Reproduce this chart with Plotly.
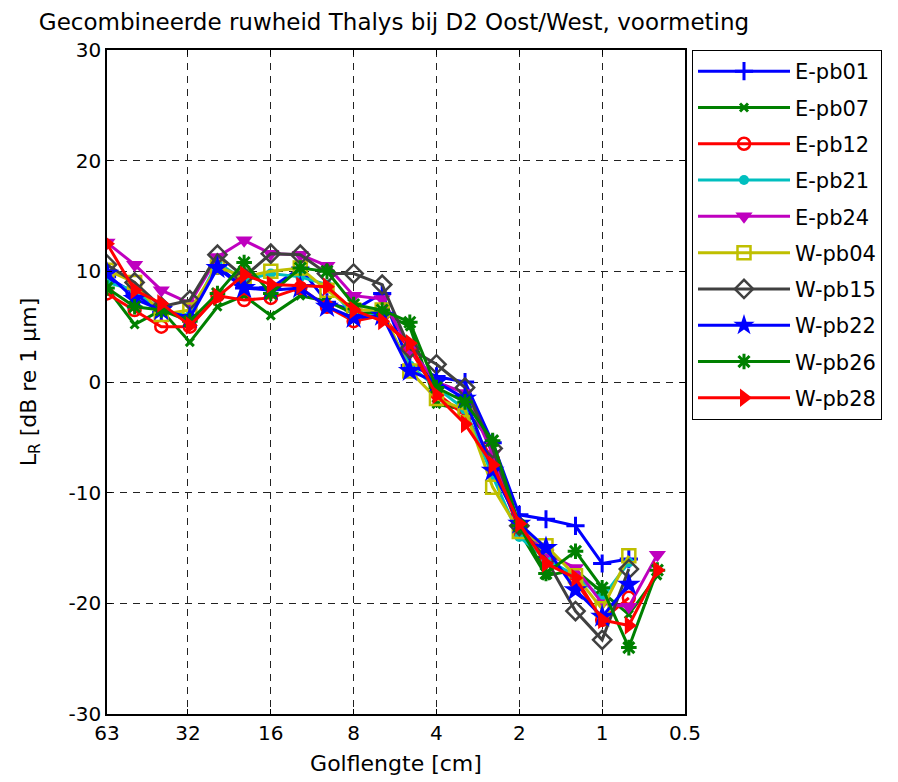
import math
import plotly.graph_objects as go

# Third-octave wavelength bands [cm]
bands = [63, 50, 40, 31.5, 25, 20, 16, 12.5, 10, 8, 6.3, 5, 4, 3.15, 2.5, 2, 1.6, 1.25, 1, 0.8, 0.63]

E_pb01 = [9.5, 8.0, 6.3, 6.0, 10.5, 8.5, 8.5, 10.3, 7.2, 6.5, 8.0, 1.5, 0.5, 0.0, -5.5, -12.0, -12.4, -13.0, -16.4, -16.0, None]
E_pb07 = [8.5, 5.2, 6.5, 3.6, 6.8, 7.8, 6.0, 7.8, 7.3, 6.2, 6.3, 5.0, -2.0, -2.5, -5.5, -13.5, -17.5, -17.0, -19.0, -21.0, -17.5]
E_pb12 = [8.0, 6.5, 5.0, 5.0, 7.8, 7.4, 7.6, 8.5, 6.8, 5.5, 6.0, 3.0, -1.0, -3.0, -7.0, -13.5, -16.0, -18.0, -21.5, -19.5, None]
E_pb21 = [9.0, 8.3, 6.5, 6.0, 10.8, 9.2, 9.8, 9.5, 8.8, 6.0, 6.0, 1.5, -0.5, -2.5, -8.5, -14.0, -16.0, -17.5, -19.5, -16.3, None]
E_pb24 = [12.6, 10.6, 8.3, 7.1, 11.3, 12.8, 11.6, 11.5, 10.5, 7.8, 7.5, 3.0, 0.0, -1.0, -6.5, -13.0, -15.5, -16.8, -20.0, -20.3, -15.6]
W_pb04 = [10.1, 9.0, 6.1, 6.5, 10.4, 9.5, 10.0, 10.3, 8.3, 6.5, 6.5, 1.0, -1.5, -2.5, -9.5, -13.5, -14.8, -17.5, -20.5, -15.7, None]
W_pb15 = [10.6, 9.0, 6.8, 7.4, 11.5, 9.5, 11.6, 11.5, 9.8, 9.8, 8.8, 3.0, 1.6, -0.5, -6.0, -13.0, -16.0, -20.7, -23.3, -16.9, None]
W_pb22 = [9.8, 7.5, 6.5, 5.8, 10.3, 8.5, 8.3, 8.5, 6.8, 5.8, 6.0, 1.0, 0.0, -1.5, -8.0, -12.8, -15.0, -18.8, -21.2, -18.3, None]
W_pb26 = [8.5, 6.8, 6.5, 5.5, 8.0, 10.8, 8.0, 10.3, 10.0, 7.0, 6.5, 5.4, -0.5, -1.8, -5.3, -13.0, -17.3, -15.3, -18.6, -24.0, -17.0]
W_pb28 = [12.5, 8.3, 7.1, 5.1, 7.7, 9.7, 8.8, 8.7, 8.6, 6.5, 5.5, 3.5, -1.2, -3.8, -7.5, -12.8, -16.4, -17.7, -21.5, -22.0, -17.0]

names = ["E-pb01", "E-pb07", "E-pb12", "E-pb21", "E-pb24",
         "W-pb04", "W-pb15", "W-pb22", "W-pb26", "W-pb28"]
series = [E_pb01, E_pb07, E_pb12, E_pb21, E_pb24, W_pb04, W_pb15, W_pb22, W_pb26, W_pb28]

x_tickvals = [63, 32, 16, 8, 4, 2, 1, 0.5]
x_ticktext = ["63", "32", "16", "8", "4", "2", "1", "0.5"]
y_tickvals = [-30, -20, -10, 0, 10, 20, 30]
y_ticktext = ["-30", "-20", "-10", "0", "10", "20", "30"]

styles = [
    dict(color="#0000FF", symbol="cross-thin", size=13, lw=3),
    dict(color="#008000", symbol="x-thin", size=8, lw=3),
    dict(color="#FF0000", symbol="circle-open", size=12, lw=2.5),
    dict(color="#00BFBF", symbol="circle", size=10, lw=0),
    dict(color="#BF00BF", symbol="triangle-down", size=15, lw=0),
    dict(color="#BFBF00", symbol="square-open", size=13, lw=2.5),
    dict(color="#404040", symbol="diamond-open", size=14, lw=2.5),
    dict(color="#0000FF", symbol="star", size=18, lw=0),
    dict(color="#008000", symbol="asterisk-open", size=13, lw=3),
    dict(color="#FF0000", symbol="triangle-right", size=16, lw=0),
]

FONT = "DejaVu Sans"

fig = go.Figure()
for name, vals, st in zip(names, series, styles):
    fig.add_trace(go.Scatter(
        x=bands, y=vals, name=name, mode="lines+markers",
        legendgroup=name,
        line=dict(color=st["color"], width=3),
        marker=dict(symbol=st["symbol"], size=st["size"], color=st["color"],
                    line=dict(color=st["color"], width=st["lw"])),
        connectgaps=False,
    ))

fig.update_layout(
    width=898, height=782,
    margin=dict(l=99, r=221, t=42, b=76),
    paper_bgcolor="white", plot_bgcolor="white",
    font=dict(family=FONT, size=20, color="black"),
    title=dict(text="Gecombineerde ruwheid Thalys bij D2 Oost/West, voormeting",
               x=(394 - 8) / 898, xanchor="center", y=1 - 14 / 782, yanchor="middle",
               font=dict(family=FONT, size=23, color="black")),
    showlegend=True,
    legend=dict(x=(692 - 107) / 578, xanchor="left", y=1, yanchor="top",
                bordercolor="black", borderwidth=1, bgcolor="white",
                font=dict(family=FONT, size=21, color="black"),
                itemwidth=92, tracegroupgap=6, traceorder="grouped"),
)

fig.update_xaxes(
    type="log", range=[math.log10(63), math.log10(0.5)],
    tickvals=x_tickvals, ticktext=x_ticktext,
    showgrid=True, gridcolor="#222222", gridwidth=1, griddash="7px,6px",
    showline=True, linecolor="black", linewidth=1.5, mirror="ticks",
    ticks="inside", ticklen=5, tickcolor="black",
    tickfont=dict(family=FONT, size=20), zeroline=False,
    title=dict(text="Golflengte [cm]", font=dict(family=FONT, size=22), standoff=12),
)
fig.update_yaxes(
    range=[-30, 30], tickvals=y_tickvals, ticktext=y_ticktext,
    showgrid=True, gridcolor="#222222", gridwidth=1, griddash="7px,6px",
    showline=True, linecolor="black", linewidth=1.5, mirror="ticks",
    ticks="inside", ticklen=5, tickcolor="black",
    tickfont=dict(family=FONT, size=20), zeroline=False,
    title=dict(text="L<sub>R</sub> [dB re 1 μm]", font=dict(family=FONT, size=22), standoff=26),
)

fig.write_html("out.html")
